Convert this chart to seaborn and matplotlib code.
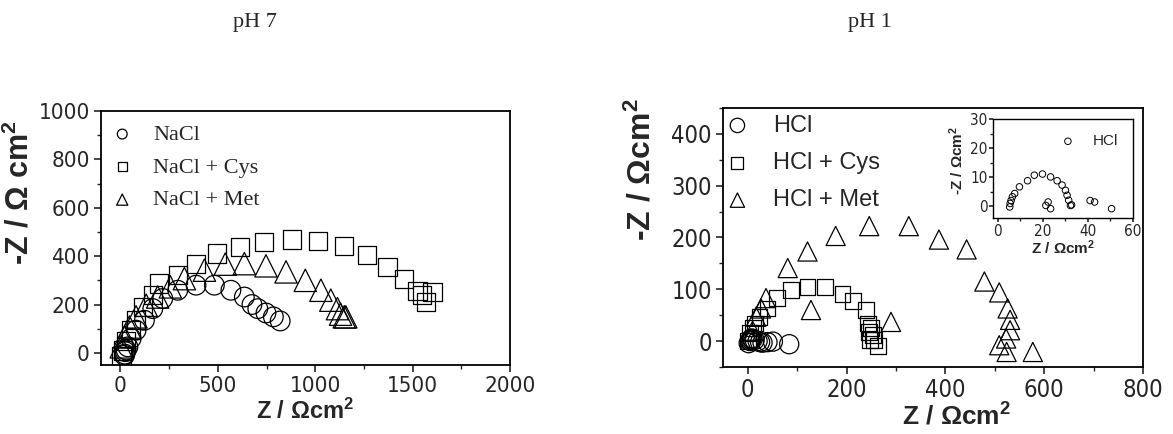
import pandas as pd
import seaborn as sns
import matplotlib.pyplot as plt
from matplotlib.ticker import MultipleLocator

# pH 7 data
nacl_x = [20, 22, 25, 29, 38, 55, 80, 123, 166, 217, 294, 388, 482, 567, 636, 675, 705, 747, 785, 820]
nacl_y = [-10, -5, 5, 12, 25, 60, 94, 135, 183, 225, 259, 280, 280, 259, 231, 200, 183, 165, 149, 132]
nacl_cys_x = [5, 12, 29, 55, 80, 114, 166, 200, 294, 388, 494, 614, 738, 880, 1015, 1149, 1268, 1371, 1456, 1525, 1550, 1568, 1602]
nacl_cys_y = [-15, 10, 50, 94, 135, 190, 238, 287, 321, 367, 411, 438, 459, 469, 463, 441, 404, 355, 305, 255, 238, 211, 252]
nacl_met_x = [4, 21, 46, 80, 132, 191, 256, 328, 431, 538, 636, 747, 850, 949, 1029, 1080, 1114, 1130, 1149, 1157]
nacl_met_y = [25, 66, 107, 149, 197, 231, 273, 307, 342, 367, 369, 360, 335, 300, 259, 218, 183, 160, 149, 149]

# pH 1 data
hcl_x = [2, 5, 6, 8, 10, 14, 20, 25, 30, 40, 51, 84]
hcl_y = [-4, 0, 3, 5, 4, 2, 0, -2, -3, -2, -1, -6]
hcl_cys_x = [0, 4, 10, 14, 24, 40, 59, 88, 121, 157, 192, 213, 240, 243, 246, 250, 248, 253, 256, 263]
hcl_cys_y = [0, 15, 25, 34, 47, 63, 83, 99, 105, 104, 91, 78, 60, 34, 18, 25, 2, 12, 2, -10]
hcl_met_x = [5, 10, 17, 27, 37, 81, 121, 128, 178, 246, 290, 326, 387, 443, 479, 509, 526, 531, 531, 523, 509, 524, 577]
hcl_met_y = [5, 20, 47, 63, 83, 141, 173, 60, 203, 222, 37, 222, 196, 177, 115, 94, 63, 41, 21, 5, -8, -21, -21]

# inset (HCl only)
inset_x = [5.4, 5.6, 6.0, 6.6, 7.6, 9.7, 13.3, 16.3, 19.9, 23.5, 26.4, 28.6, 30.1, 30.8, 31.5, 32.3, 32.8, 21.4, 22.4, 23.5, 41, 43, 50.5]
inset_y = [-0.2, 1, 2, 3.3, 4.4, 6.7, 8.8, 10.7, 11.1, 10.1, 8.8, 7.3, 5.5, 3.8, 2.1, 0.3, 0.5, 0.3, 1.5, -0.8, 2, 1.5, -0.8]

sns.set_style("ticks")
plt.rcParams['font.family'] = ['DejaVu Sans']
plt.rcParams['font.stretch'] = 'condensed'
plt.rcParams['mathtext.default'] = 'regular'

LAB = 'Liberation Sans'

fig = plt.figure(figsize=(11.73, 4.34), dpi=100)
ax1 = fig.add_axes([101/1173, 1-365/434, 409/1173, 254/434])
ax2 = fig.add_axes([723/1173, 1-367/434, 420/1173, 259/434])
axin = fig.add_axes([993/1173, 1-218/434, 140/1173, 99/434])


def unfilled(ax, x, y, marker, s, label=None, lw=0.9):
    sns.scatterplot(x=x, y=y, marker=marker, s=s, facecolors='none', edgecolors='black',
                    linewidths=lw, label=label, ax=ax, legend=False)


def style_axes(ax, size=15, lw=1.3):
    for sp in ax.spines.values():
        sp.set_linewidth(lw)
        sp.set_color('black')
    ax.tick_params(which='major', direction='out', length=5, width=1.2, labelsize=size,
                   top=False, right=False, pad=3)
    ax.tick_params(which='minor', direction='out', length=3, width=1.0, top=False, right=False)


# left panel
unfilled(ax1, nacl_x, nacl_y, 'o', 200, 'NaCl')
unfilled(ax1, nacl_cys_x, nacl_cys_y, 's', 170, 'NaCl + Cys')
unfilled(ax1, nacl_met_x, nacl_met_y, '^', 260, 'NaCl + Met')
ax1.set_xlim(-100, 2000)
ax1.set_ylim(-50, 1000)
ax1.xaxis.set_major_locator(MultipleLocator(500))
ax1.xaxis.set_minor_locator(MultipleLocator(250))
ax1.yaxis.set_major_locator(MultipleLocator(200))
ax1.yaxis.set_minor_locator(MultipleLocator(100))
style_axes(ax1, 16)
ax1.set_xlabel('Z / $\\Omega$cm$^2$', fontsize=17, fontweight='bold', family=LAB, labelpad=2)
ax1.set_ylabel('-Z / $\\Omega$ cm$^2$', fontsize=22, fontweight='bold', family=LAB)
ax1.yaxis.set_label_coords(-0.161, 0.677)
ax1.legend(loc='upper left', bbox_to_anchor=(-0.035, 1.0), frameon=False, markerscale=0.5,
           handletextpad=0.4, prop={'family': 'Liberation Serif', 'size': 16},
           labelspacing=0.55, borderaxespad=0.2)

# right panel
unfilled(ax2, hcl_x, hcl_y, 'o', 190, 'HCl')
unfilled(ax2, hcl_cys_x, hcl_cys_y, 's', 130, 'HCl + Cys')
unfilled(ax2, hcl_met_x, hcl_met_y, '^', 190, 'HCl + Met')
ax2.set_xlim(-50, 800)
ax2.set_ylim(-50, 450)
ax2.xaxis.set_major_locator(MultipleLocator(200))
ax2.xaxis.set_minor_locator(MultipleLocator(100))
ax2.yaxis.set_major_locator(MultipleLocator(100))
ax2.yaxis.set_minor_locator(MultipleLocator(50))
style_axes(ax2, 17)
ax2.set_xlabel('Z / $\\Omega$cm$^2$', fontsize=19, fontweight='bold', family=LAB, labelpad=0)
ax2.xaxis.set_label_coords(0.555, -0.14)
ax2.set_ylabel('-Z / $\\Omega$cm$^2$', fontsize=23, fontweight='bold', family=LAB)
ax2.yaxis.set_label_coords(-0.155, 0.76)
ax2.legend(loc='upper left', bbox_to_anchor=(-0.05, 1.02), frameon=False, markerscale=0.75,
           handletextpad=0.5, prop={'family': LAB, 'size': 17}, labelspacing=0.65,
           borderaxespad=0.1)

# inset
unfilled(axin, inset_x, inset_y, 'o', 22, 'HCl', lw=0.7)
axin.set_xlim(-2, 60)
axin.set_ylim(-4, 30)
axin.xaxis.set_major_locator(MultipleLocator(20))
axin.xaxis.set_minor_locator(MultipleLocator(10))
axin.yaxis.set_major_locator(MultipleLocator(10))
axin.yaxis.set_minor_locator(MultipleLocator(5))
style_axes(axin, 11, lw=1.0)
axin.tick_params(which='major', length=3, pad=1)
axin.tick_params(which='minor', length=2)
axin.set_xlabel('Z / $\\Omega$cm$^2$', fontsize=11, fontweight='bold', family=LAB, labelpad=0)
axin.set_ylabel('-Z / $\\Omega$cm$^2$', fontsize=11, fontweight='bold', family=LAB)
axin.yaxis.set_label_coords(-0.19, 0.58)
axin.legend(loc='upper right', frameon=False, prop={'family': LAB, 'size': 11},
            handletextpad=0.6, borderaxespad=0.6)

fig.text(255/1173, 1-22/434, 'pH 7', ha='center', va='center', fontsize=16, family='Liberation Serif')
fig.text(870/1173, 1-22/434, 'pH 1', ha='center', va='center', fontsize=16, family='Liberation Serif')

fig.savefig('out.png', dpi=100)
